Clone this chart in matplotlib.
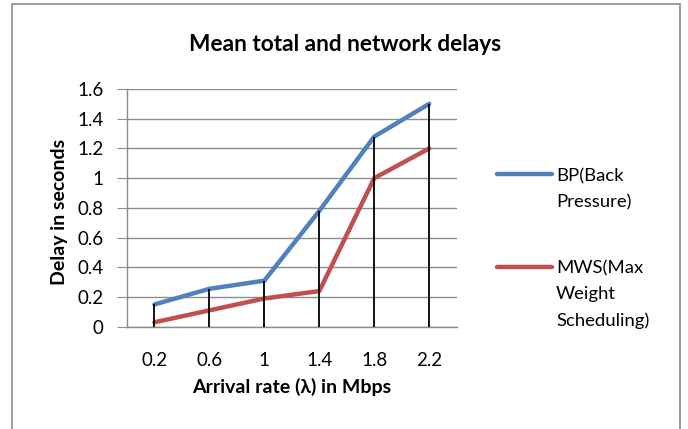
import matplotlib
matplotlib.use("Agg")
import matplotlib.pyplot as plt
from matplotlib.lines import Line2D
from matplotlib.patches import Rectangle

categories = ["0.2", "0.6", "1", "1.4", "1.8", "2.2"]
bp_values = [0.15, 0.255, 0.31, 0.78, 1.28, 1.50]
mws_values = [0.03, 0.11, 0.19, 0.24, 1.00, 1.20]
series_names = ["BP(Back\nPressure)", "MWS(Max\nWeight\nScheduling)"]
yticks = [0, 0.2, 0.4, 0.6, 0.8, 1, 1.2, 1.4, 1.6]
ytick_labels = ["0", "0.2", "0.4", "0.6", "0.8", "1", "1.2", "1.4", "1.6"]

plt.rcParams['font.family'] = ['Lato', 'DejaVu Sans']

W, H = 688, 429
fig = plt.figure(figsize=(W / 100, H / 100), dpi=100)
fig.patch.set_facecolor('white')

# outer frame
fig.add_artist(Rectangle((12 / W, -0.05), (680 - 12) / W, 1.05 - 4 / H,
                         transform=fig.transFigure, fill=False,
                         edgecolor='#8c8c8c', linewidth=1.2))

ax = fig.add_axes([127 / W, 1 - 326.7 / H, (456.7 - 127) / W, (326.7 - 89) / H])
x = list(range(len(categories)))
colors = ['#4F81BD', '#C0504D']

ax.plot(x, bp_values, color=colors[0], linewidth=3.2, solid_capstyle='round', zorder=3)
ax.plot(x, mws_values, color=colors[1], linewidth=3.2, solid_capstyle='round', zorder=3)
tops = [max(a, b) for a, b in zip(bp_values, mws_values)]
ax.vlines(x, 0, tops, colors='black', linewidth=1.3, zorder=4)

ax.set_xlim(-0.5, len(categories) - 0.5)
ax.set_ylim(0, 1.6)
ax.set_yticks(yticks)
ax.set_yticklabels(ytick_labels)
ax.set_xticks(x)
ax.set_xticklabels(categories)
ax.yaxis.grid(True, color='#8c8c8c', linewidth=1.0)
ax.set_axisbelow(True)
for s in ['top', 'right']:
    ax.spines[s].set_visible(False)
ax.spines['left'].set_color('#8c8c8c')
ax.spines['bottom'].set_color('#8c8c8c')
ax.spines['left'].set_linewidth(1.0)
ax.spines['bottom'].set_linewidth(1.0)
ax.tick_params(axis='y', length=7, color='#8c8c8c', labelsize=13.5, pad=10)
ax.tick_params(axis='x', length=0, labelsize=13.5, pad=18)

ax.set_ylabel("Delay in seconds", fontsize=14, fontweight='bold')
ax.set_xlabel("Arrival rate (λ) in Mbps", fontsize=14, fontweight='bold')
ax.xaxis.set_label_coords(0.5, -0.215)
ax.yaxis.set_label_coords(-0.18, 0.484)

fig.text(344.7 / W, 1 - 51 / H, "Mean total and network delays", ha='center', va='baseline',
         fontsize=16.3, fontweight='bold')

# legend
leg_y = [174, 267]
leg_base = [[181, 207], [273, 299.5, 326]]
for name, col, yy, bases in zip(series_names, colors, leg_y, leg_base):
    fig.add_artist(Line2D([497 / W, 552 / W], [1 - yy / H, 1 - yy / H],
                          transform=fig.transFigure, color=col, linewidth=3.2,
                          solid_capstyle='round'))
    for line, b in zip(name.split("\n"), bases):
        fig.text(556 / W, 1 - b / H, line, ha='left', va='baseline', fontsize=13.3)

fig.savefig("out.png", dpi=100)
